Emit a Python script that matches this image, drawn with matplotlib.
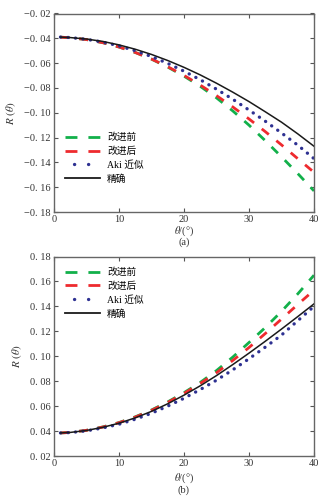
import matplotlib
matplotlib.use("Agg")
import matplotlib.pyplot as plt
from matplotlib.lines import Line2D
from matplotlib.ticker import FuncFormatter, MultipleLocator

plt.rcParams["font.family"] = ["Liberation Serif", "Noto Sans CJK SC"]
plt.rcParams["mathtext.fontset"] = "stix"
plt.rcParams["lines.scale_dashes"] = False
plt.rcParams["axes.unicode_minus"] = True

# incidence angle (degrees)
theta = [1, 2.5, 5, 7.5, 10, 12.5, 15, 17.5, 20, 22.5, 25, 27.5, 30, 32.5, 35, 37.5, 40]

# panel (a)
a_before = [-0.0391, -0.0395, -0.041, -0.0435, -0.047, -0.0514, -0.0568, -0.0632, -0.0705,
            -0.0787, -0.088, -0.0985, -0.110, -0.1225, -0.1355, -0.149, -0.163]
a_after = [-0.0391, -0.0395, -0.041, -0.0435, -0.047, -0.0514, -0.0567, -0.0629, -0.0699,
           -0.0777, -0.0862, -0.0953, -0.105, -0.1152, -0.1259, -0.137, -0.148]
a_aki = [-0.039, -0.0394, -0.0408, -0.043, -0.0461, -0.050, -0.0547, -0.0602, -0.0665,
         -0.0734, -0.081, -0.0891, -0.0978, -0.1068, -0.1163, -0.1261, -0.137]
a_exact = [-0.039, -0.0394, -0.0406, -0.0425, -0.0453, -0.0488, -0.053, -0.0579, -0.0634,
           -0.0695, -0.0762, -0.0834, -0.091, -0.0992, -0.1076, -0.117, -0.127]

# panel (b)
b_before = [0.0385, 0.0389, 0.0406, 0.0433, 0.0468, 0.0514, 0.0569, 0.0634, 0.0708,
            0.079, 0.0885, 0.0993, 0.111, 0.123, 0.136, 0.150, 0.165]
b_after = [0.0385, 0.0389, 0.0406, 0.0432, 0.0467, 0.0512, 0.0566, 0.063, 0.0702,
           0.0782, 0.0868, 0.0966, 0.107, 0.1182, 0.1298, 0.1415, 0.153]
b_aki = [0.0385, 0.0388, 0.0402, 0.0425, 0.0455, 0.0495, 0.0543, 0.060, 0.0663,
         0.0733, 0.0808, 0.0891, 0.098, 0.1073, 0.117, 0.1285, 0.140]
b_exact = [0.0385, 0.0389, 0.0405, 0.043, 0.0463, 0.0506, 0.0558, 0.0619, 0.0688,
           0.0763, 0.0845, 0.0933, 0.1025, 0.112, 0.1218, 0.1318, 0.142]

labels = ["改进前", "改进后", "Aki 近似", "精确"]
colors = ["#12b04a", "#ee2a2e", "#2e3192", "#1a1a1a"]
x_ticks = [0, 10, 20, 30, 40]

W, H = 331, 497
fig = plt.figure(figsize=(W / 100, H / 100), dpi=100)


def px_axes(left, top, right, bottom):
    return fig.add_axes([left / W, 1 - bottom / H, (right - left) / W, (bottom - top) / H])


def fmt(v, pos):
    s = f"{v:.2f}".replace(".", ". ")
    return s.replace("-", "\u2212")


def draw_panel(ax, series, ylim, leg_anchor):
    styles = [
        dict(color=colors[0], lw=2.0, dashes=(6.5, 7.0)),
        dict(color=colors[1], lw=2.0, dashes=(6.5, 7.0)),
        dict(color=colors[2], lw=2.4, dashes=(0.1, 5.3), dash_capstyle="round"),
        dict(color=colors[3], lw=1.1, linestyle="-"),
    ]
    for y, st in zip(series, styles):
        ax.plot(theta, y, **st)

    ax.set_xlim(0, 40)
    ax.set_ylim(*ylim)
    ax.set_xticks(x_ticks)
    ax.yaxis.set_major_locator(MultipleLocator(0.02))
    ax.yaxis.set_major_formatter(FuncFormatter(fmt))
    ax.tick_params(direction="in", length=3, width=0.8, colors="#555555",
                   labelcolor="#333333", labelsize=7.5, pad=2.5,
                   top=True, right=True)
    for sp in ax.spines.values():
        sp.set_color("#666666")
        sp.set_linewidth(1.0)

    handles = [
        Line2D([], [], color=colors[0], lw=2.0, dashes=(8.6, 7.9)),
        Line2D([], [], color=colors[1], lw=2.0, dashes=(8.6, 7.9)),
        Line2D([], [], color=colors[2], lw=2.4, linestyle=(3.6, (0.1, 10.0)),
               dash_capstyle="round"),
        Line2D([], [], color=colors[3], lw=1.3),
    ]
    ax.legend(handles, labels, loc="upper left", bbox_to_anchor=leg_anchor,
              frameon=False, fontsize=7, handlelength=3.6, handletextpad=0.75,
              labelspacing=0.45, borderpad=0, borderaxespad=0)


ax_a = px_axes(54, 13.5, 314, 212)
draw_panel(ax_a, [a_before, a_after, a_aki, a_exact], (-0.18, -0.02), (0.042, 0.40))
ax_b = px_axes(54, 256.5, 314, 456)
draw_panel(ax_b, [b_before, b_after, b_aki, b_exact], (0.02, 0.18), (0.042, 0.945))

for ax in (ax_a, ax_b):
    ax.set_ylabel(r"$R\ (\theta)$", fontsize=8, color="#333333", labelpad=4)

fig.text(184 / W, 1 - 231 / H, r"$\theta$/(°)", ha="center", va="center", fontsize=7.5, color="#333333")
fig.text(184 / W, 1 - 242 / H, "(a)", ha="center", va="center", fontsize=7.5, color="#333333")
fig.text(184 / W, 1 - 478 / H, r"$\theta$/(°)", ha="center", va="center", fontsize=7.5, color="#333333")
fig.text(184 / W, 1 - 490 / H, "(b)", ha="center", va="center", fontsize=7.5, color="#333333")

fig.savefig("out.png", dpi=100)
